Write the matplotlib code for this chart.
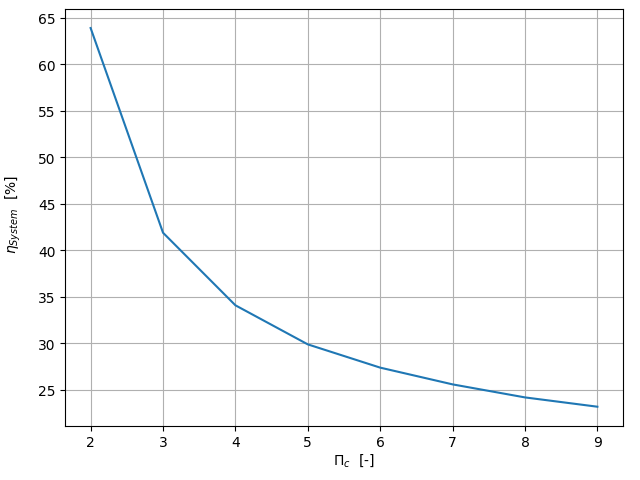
import matplotlib
matplotlib.use('Agg')
import matplotlib.pyplot as plt

pi_c = [2, 3, 4, 5, 6, 7, 8, 9]
eta_system = [63.9, 41.9, 34.1, 29.9, 27.4, 25.6, 24.2, 23.2]

fig = plt.figure(figsize=(6.4, 4.81), dpi=100)
plt.subplots_adjust(left=0.102, right=0.973, top=0.979, bottom=0.113)
plt.plot(pi_c, eta_system)
plt.xlabel(r'$\Pi_c$  [-]')
plt.ylabel(r'$\eta_{System}$  [%]')
ax = plt.gca()
ax.yaxis.set_label_coords(-0.076, 0.51)
ax.xaxis.set_label_coords(0.517, -0.062)
plt.grid()
plt.savefig('out.png')
